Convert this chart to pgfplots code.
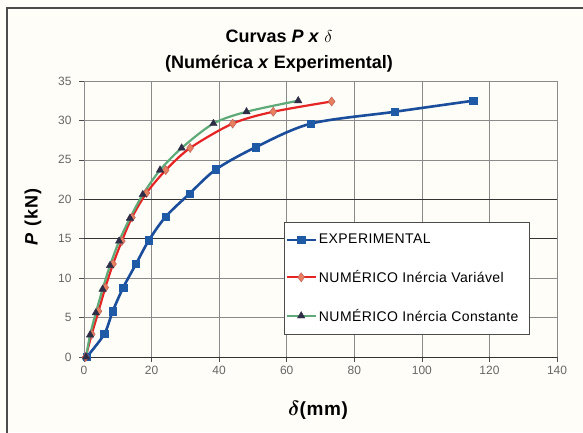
\documentclass[border=0pt]{standalone}
\usepackage{pgfplots}
\pgfplotsset{compat=1.18}
\usepackage{amsmath}
\usepackage{bm}
\usepackage{fontspec}
\setmainfont{Liberation Sans}
\definecolor{bg}{HTML}{FFFDF8}
\definecolor{expblue}{HTML}{1A4E9C}
\definecolor{expmark}{HTML}{1F5AA6}
\definecolor{numred}{HTML}{E52424}
\definecolor{diamfill}{HTML}{E8805F}
\definecolor{diamedge}{HTML}{C0605A}
\definecolor{numgreen}{HTML}{5EAA78}
\definecolor{trifill}{HTML}{2E2E48}
\definecolor{gridc}{HTML}{8A8A8A}
\definecolor{tickc}{HTML}{666666}
\begin{document}
\begin{tikzpicture}[x=1bp,y=1bp]
\useasboundingbox (0,0) rectangle (583,432);
\clip (0,0) rectangle (583,432);
\fill[bg] (0,0) rectangle (583,432);
\draw[line width=1.6bp,black!70] (7,-10) -- (7,424) -- (600,424);
\node[font=\fontsize{18bp}{26bp}\selectfont\bfseries,align=center] at (279,381)
  {Curvas \textit{P} \textit{x} $\delta$\\(Numérica \textit{x} Experimental)};
\node[font=\fontsize{19bp}{22bp}\selectfont\bfseries\addfontfeatures{LetterSpace=3}] at (318,22) {$\bm{\delta}$(mm)};
\node[font=\fontsize{18bp}{22bp}\selectfont\bfseries\addfontfeatures{LetterSpace=6},rotate=90] at (33,215) {\textit{P} (kN)};
\begin{axis}[
  at={(84bp,75bp)}, anchor=south west,
  scale only axis, width=473bp, height=276bp,
  xmin=0, xmax=140, ymin=0, ymax=35,
  xtick distance=20, ytick distance=5,
  grid=major,
  major grid style={gridc, line width=0.6bp},
  axis line style={gridc, line width=0.6bp},
  axis x line*=bottom, axis y line*=left,
  tick align=outside,
  major tick length=5bp,
  tick style={black!70, line width=0.6bp},
  /pgf/number format/assume math mode=true,
  ticklabel style={font=\fontsize{12bp}{14bp}\selectfont, text=tickc},
  xticklabel style={yshift=-1bp},
  yticklabel style={xshift=-4bp},
  legend style={
    at={(0.423,0.489)}, anchor=north west,
    draw=black!70, line width=0.6bp, fill=white,
    font=\fontsize{14bp}{16bp}\selectfont\addfontfeatures{LetterSpace=3},
    row sep=21bp, inner xsep=1bp, inner ysep=10bp,
    /tikz/every even column/.append style={column sep=1bp},
  },
  legend cell align=left,
  legend image code/.code={
    \draw[#1] (0bp,0bp) -- (29bp,0bp);
    \path[#1] plot coordinates {(14.5bp,0bp)};
  },
]
\addplot[black!80, line width=1bp, forget plot] coordinates {(0,15) (140,15)};
\addplot[black!80, line width=1bp, forget plot] coordinates {(0,20) (140,20)};
\addplot[black!80, line width=1bp, forget plot] coordinates {(0,0) (140,0)};
\addplot[expblue, line width=2.6bp, smooth, mark=square*, mark size=3.6bp,
  mark options={fill=expmark, draw=expmark, line width=0.5bp}]
  coordinates {(0.8,0)(6,2.9)(8.5,5.8)(11.6,8.8)(15.4,11.8)(19.2,14.8)(24.2,17.8)(31.2,20.7)(39.1,23.8)(50.8,26.6)(67.2,29.6)(92,31.1)(115.2,32.5)};
\addlegendentry{EXPERIMENTAL}
\addplot[numred, line width=2.2bp, smooth, mark=diamond*, mark size=4.5bp,
  mark options={fill=diamfill, draw=diamedge, line width=0.5bp}]
  coordinates {(0.5,0)(2.3,2.9)(4.3,5.8)(6.3,8.8)(8.6,11.8)(11.2,14.7)(14.2,17.7)(18.5,20.8)(24.2,23.7)(31.4,26.5)(44,29.6)(56,31.1)(73.3,32.4)};
\addlegendentry{NUMÉRICO Inércia Variável}
\addplot[numgreen, line width=2.2bp, smooth, mark=triangle*, mark size=4.3bp,
  mark options={fill=trifill, draw=trifill, line width=0.4bp}]
  coordinates {(0.6,0)(1.8,2.8)(3.5,5.6)(5.5,8.6)(7.7,11.6)(10.4,14.7)(13.6,17.6)(17.4,20.6)(22.5,23.7)(28.9,26.5)(38.3,29.6)(48.1,31.1)(63.4,32.5)};
\addlegendentry{NUMÉRICO Inércia Constante\rule{8bp}{0bp}}
\end{axis}
\end{tikzpicture}
\end{document}
